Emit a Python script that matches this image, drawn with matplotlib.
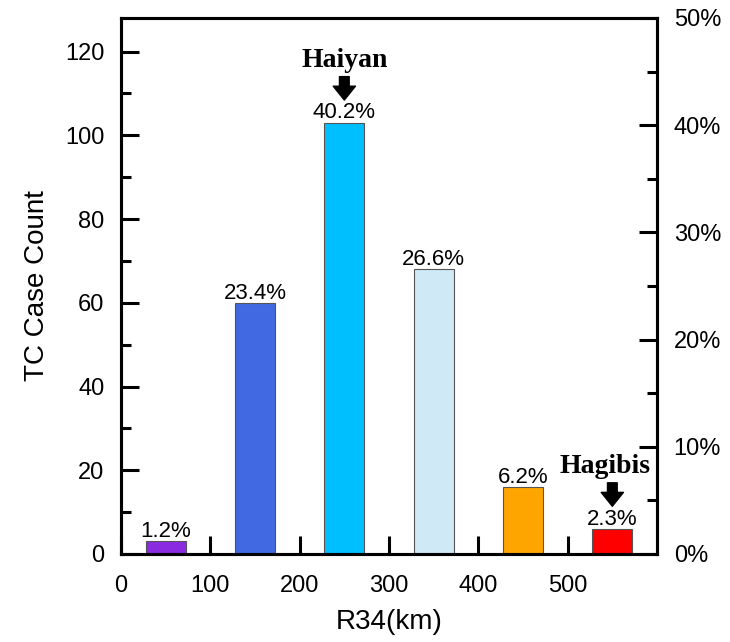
import matplotlib.pyplot as plt
from matplotlib.ticker import MultipleLocator, FuncFormatter

plt.rcParams['font.family'] = ['Liberation Sans', 'DejaVu Sans']

# data
centers = [50, 150, 250, 350, 450, 550]
counts = [3, 60, 103, 68, 16, 6]
pct_labels = ['1.2%', '23.4%', '40.2%', '26.6%', '6.2%', '2.3%']
colors = ['#8A2BE2', '#4169E1', '#00BFFF', '#CFE9F7', '#FFA500', '#FF0000']
storms = {'Haiyan': 250, 'Hagibis': 550}
name_shift = {'Haiyan': 0, 'Hagibis': -8}

fig = plt.figure(figsize=(7.3, 6.42), dpi=100)
ax = fig.add_axes([121 / 730, 1 - 554 / 642, 536 / 730, 536 / 642])

ax.bar(centers, counts, width=45, color=colors, edgecolor='#555555', linewidth=0.8, zorder=2)
for x, c, lab in zip(centers, counts, pct_labels):
    ax.text(x, c + 1.0, lab, ha='center', va='baseline', fontsize=16)

# storm annotations
for name, x in storms.items():
    top = counts[centers.index(x)]
    ax.annotate('', xy=(x, top + 5.4), xytext=(x, top + 11.0),
                arrowprops=dict(arrowstyle='simple,head_width=1.6,head_length=1.0,tail_width=0.7',
                                color='black', shrinkA=0, shrinkB=0))
    ax.text(x + name_shift[name], top + 13.4, name, ha='center', va='baseline', fontsize=20,
            fontweight='bold', family=['Liberation Serif', 'DejaVu Serif'])

ax.set_xlim(0, 600)
ax.set_ylim(0, 128)
ax.set_xticks([0, 100, 200, 300, 400, 500])
ax.yaxis.set_major_locator(MultipleLocator(20))
ax.yaxis.set_minor_locator(MultipleLocator(10))
ax.set_xlabel('R34(km)', fontsize=20, labelpad=9)
ax.set_ylabel('TC Case Count', fontsize=20, labelpad=11)

ax2 = ax.twinx()
ax2.set_ylim(0, 50)
ax2.yaxis.set_major_locator(MultipleLocator(10))
ax2.yaxis.set_minor_locator(MultipleLocator(5))
ax2.yaxis.set_major_formatter(FuncFormatter(lambda v, p: f'{v:.0f}%'))

for a in (ax, ax2):
    for s in a.spines.values():
        s.set_linewidth(2.2)
    a.tick_params(which='major', direction='in', length=13, width=2.2, labelsize=17, pad=12)
    a.tick_params(which='minor', direction='in', length=7, width=2.2)
ax.tick_params(axis='x', pad=15)

plt.savefig('out.png', dpi=100)
